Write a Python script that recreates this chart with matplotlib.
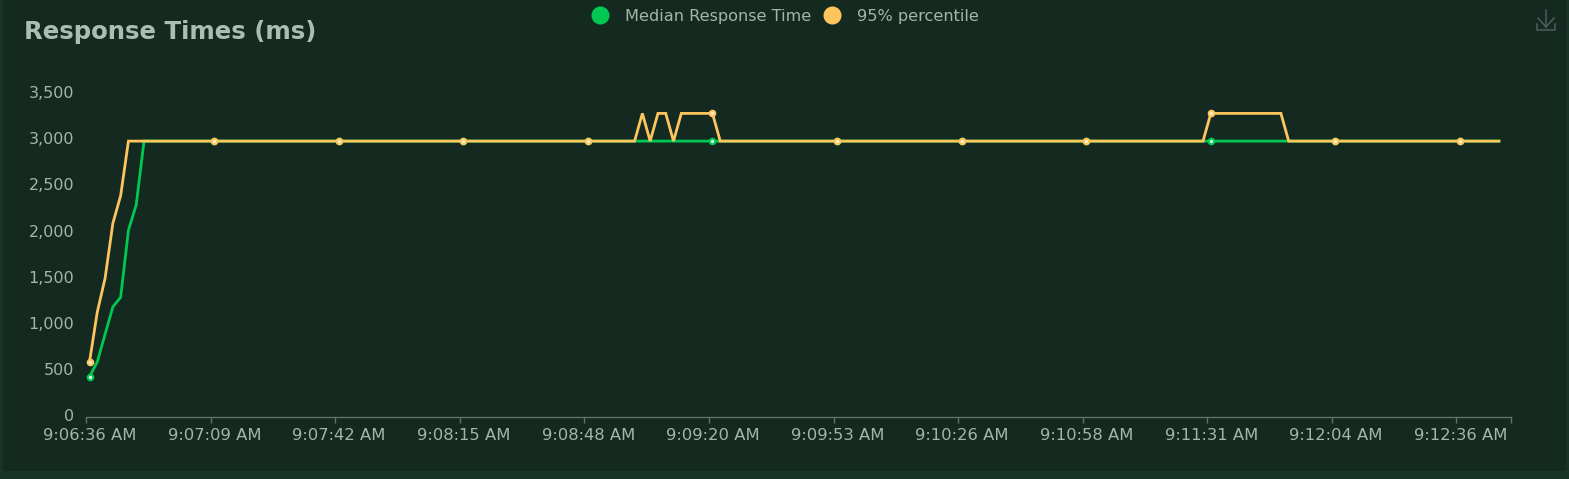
import matplotlib
matplotlib.use('Agg')
import matplotlib.pyplot as plt
from matplotlib.lines import Line2D
from matplotlib.patches import FancyBboxPatch
from matplotlib.transforms import ScaledTranslation

W, H = 1569, 479

time_labels = ['9:06:36 AM', '9:07:09 AM', '9:07:42 AM', '9:08:15 AM', '9:08:48 AM', '9:09:20 AM',
               '9:09:53 AM', '9:10:26 AM', '9:10:58 AM', '9:11:31 AM', '9:12:04 AM', '9:12:36 AM']

median = [440, 600, 900, 1195, 1300, 2025, 2300, 2990, 2990, 2990,
          2990, 2990, 2990, 2990, 2990, 2990, 2990, 2990, 2990, 2990,
          2990, 2990, 2990, 2990, 2990, 2990, 2990, 2990, 2990, 2990,
          2990, 2990, 2990, 2990, 2990, 2990, 2990, 2990, 2990, 2990,
          2990, 2990, 2990, 2990, 2990, 2990, 2990, 2990, 2990, 2990,
          2990, 2990, 2990, 2990, 2990, 2990, 2990, 2990, 2990, 2990,
          2990, 2990, 2990, 2990, 2990, 2990, 2990, 2990, 2990, 2990,
          2990, 2990, 2990, 2990, 2990, 2990, 2990, 2990, 2990, 2990,
          2990, 2990, 2990, 2990, 2990, 2990, 2990, 2990, 2990, 2990,
          2990, 2990, 2990, 2990, 2990, 2990, 2990, 2990, 2990, 2990,
          2990, 2990, 2990, 2990, 2990, 2990, 2990, 2990, 2990, 2990,
          2990, 2990, 2990, 2990, 2990, 2990, 2990, 2990, 2990, 2990,
          2990, 2990, 2990, 2990, 2990, 2990, 2990, 2990, 2990, 2990,
          2990, 2990, 2990, 2990, 2990, 2990, 2990, 2990, 2990, 2990,
          2990, 2990, 2990, 2990, 2990, 2990, 2990, 2990, 2990, 2990,
          2990, 2990, 2990, 2990, 2990, 2990, 2990, 2990, 2990, 2990,
          2990, 2990, 2990, 2990, 2990, 2990, 2990, 2990, 2990, 2990,
          2990, 2990, 2990, 2990, 2990, 2990, 2990, 2990, 2990, 2990,
          2990, 2990]

p95 = [600, 1140, 1505, 2100, 2400, 2990, 2990, 2990, 2990, 2990,
       2990, 2990, 2990, 2990, 2990, 2990, 2990, 2990, 2990, 2990,
       2990, 2990, 2990, 2990, 2990, 2990, 2990, 2990, 2990, 2990,
       2990, 2990, 2990, 2990, 2990, 2990, 2990, 2990, 2990, 2990,
       2990, 2990, 2990, 2990, 2990, 2990, 2990, 2990, 2990, 2990,
       2990, 2990, 2990, 2990, 2990, 2990, 2990, 2990, 2990, 2990,
       2990, 2990, 2990, 2990, 2990, 2990, 2990, 2990, 2990, 2990,
       2990, 3290, 2990, 3290, 3290, 2990, 3290, 3290, 3290, 3290,
       3290, 2990, 2990, 2990, 2990, 2990, 2990, 2990, 2990, 2990,
       2990, 2990, 2990, 2990, 2990, 2990, 2990, 2990, 2990, 2990,
       2990, 2990, 2990, 2990, 2990, 2990, 2990, 2990, 2990, 2990,
       2990, 2990, 2990, 2990, 2990, 2990, 2990, 2990, 2990, 2990,
       2990, 2990, 2990, 2990, 2990, 2990, 2990, 2990, 2990, 2990,
       2990, 2990, 2990, 2990, 2990, 2990, 2990, 2990, 2990, 2990,
       2990, 2990, 2990, 2990, 3290, 3290, 3290, 3290, 3290, 3290,
       3290, 3290, 3290, 3290, 2990, 2990, 2990, 2990, 2990, 2990,
       2990, 2990, 2990, 2990, 2990, 2990, 2990, 2990, 2990, 2990,
       2990, 2990, 2990, 2990, 2990, 2990, 2990, 2990, 2990, 2990,
       2990, 2990]

outer = '#183429'
panel = '#142a21'
green = '#00c853'
orange = '#fdc55c'
text = '#a3b5ac'
axis_col = '#5f7269'

fig = plt.figure(figsize=(W / 100, H / 100), dpi=100, facecolor=outer)


def px(x, y):
    return x / W, 1 - y / H


# panel behind the chart, runs off the top of the picture
fig.patches.append(FancyBboxPatch((3 / W, 1 - 471 / H), 1563 / W, 490 / H, transform=fig.transFigure,
                                  boxstyle='round,pad=0,rounding_size=0.003', fc=panel, ec='none',
                                  mutation_aspect=H / W, zorder=-1))

ax = fig.add_axes([86 / W, 1 - 417.3 / H, 1425 / W, 323.3 / H])
ax.patch.set_alpha(0)

xs = [i + 0.45 for i in range(len(median))]
ax.plot(xs, median, color=green, lw=2.0, marker='o', ms=4.0, mfc='#d8f5e3', mec=green, mew=1.5, markevery=16,
        solid_joinstyle='miter', zorder=3)
ax.plot(xs, p95, color=orange, lw=2.0, marker='o', ms=4.0, mfc='#fff0d0', mec=orange, mew=1.5, markevery=16,
        solid_joinstyle='miter', zorder=4)

ax.set_xlim(0, 183)
ax.set_ylim(0, 3500)

# ticks sit on band edges, the labels in the band centre
edges = [i * 16 for i in range(len(time_labels))] + [183]
ax.set_xticks(edges)
ax.set_xticklabels([])
ax.tick_params(axis='x', which='major', length=4.5, width=1, color=axis_col)
ax.set_xticks([i * 16 + 0.5 for i in range(len(time_labels))], minor=True)
ax.set_xticklabels(time_labels, minor=True, fontsize=11.8, color=text)
ax.tick_params(axis='x', which='minor', length=0, pad=7.5)

yticks = [0, 500, 1000, 1500, 2000, 2500, 3000, 3500]
ax.set_yticks(yticks)
ax.set_yticklabels([f'{v:,}' for v in yticks], fontsize=11.5, color=text)
ax.tick_params(axis='y', length=0, pad=8.5)
# y labels sit 2px above their value in the reference
up = ScaledTranslation(0, 2 / 100, fig.dpi_scale_trans)
for lab in ax.get_yticklabels():
    lab.set_transform(lab.get_transform() + up)

for s in ['top', 'right', 'left']:
    ax.spines[s].set_visible(False)
ax.spines['bottom'].set_color(axis_col)
ax.spines['bottom'].set_linewidth(1)

fig.text(*px(24, 32), 'Response Times (ms)', fontsize=17.6, fontweight='bold', color='#a9bfb4', va='center', ha='left')

handles = [Line2D([], [], ls='none', marker='o', ms=13, color=green, mec='none'),
           Line2D([], [], ls='none', marker='o', ms=13, color=orange, mec='none')]
fig.legend(handles, ['Median Response Time', '95% percentile'], ncols=2, frameon=False, fontsize=11.6,
           labelcolor=text, loc='center', bbox_to_anchor=px(785, 16), handletextpad=0.95, columnspacing=0.7,
           handlelength=1.2, borderpad=0, borderaxespad=0)

# download icon
icon = '#4d5f58'
for xx, yy in [([1546, 1546], [10, 27]), ([1538, 1546, 1554], [18, 27, 18]),
               ([1537, 1537, 1555, 1555], [24, 30, 30, 24])]:
    fig.add_artist(Line2D([x / W for x in xx], [1 - y / H for y in yy], color=icon, lw=1.1))

fig.savefig('out.png', dpi=100, facecolor=outer)
